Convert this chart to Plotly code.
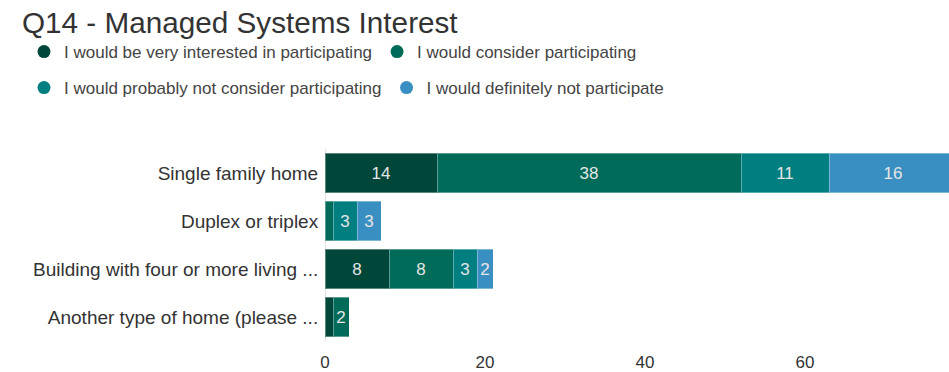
import plotly.graph_objects as go

categories = ["Single family home", "Duplex or triplex",
              "Building with four or more living ...", "Another type of home (please ..."]
series_names = ["I would be very interested in participating",
                "I would consider participating",
                "I would probably not consider participating",
                "I would definitely not participate"]
very_interested = [14, 0, 8, 1]
consider = [38, 1, 8, 2]
probably_not = [11, 3, 3, 0]
definitely_not = [16, 3, 2, 0]
colors = ["#00473a", "#006b58", "#007e80", "#3a8fc2"]
x_ticks = [0, 20, 40, 60]

values = [very_interested, consider, probably_not, definitely_not]
font_family = "Arial, Liberation Sans, sans-serif"

fig = go.Figure()
for name, vals, col in zip(series_names, values, colors):
    fig.add_trace(go.Bar(
        y=categories, x=vals, orientation="h", name=name,
        marker=dict(color=col, line=dict(color="rgba(255,255,255,0.35)", width=1)),
        text=[str(v) if v else "" for v in vals],
        textposition="inside", insidetextanchor="middle",
        textfont=dict(color="#e6e6e6", size=17, family=font_family),
        showlegend=False, hoverinfo="x+name",
    ))

# legend entries with circle markers, split into two rows
for i, (name, col) in enumerate(zip(series_names, colors)):
    fig.add_trace(go.Scatter(
        x=[None], y=[None], mode="markers", name=name,
        marker=dict(color=col, size=13, symbol="circle"),
        legend="legend" if i < 2 else "legend2",
    ))

W, H = 949, 372
ml, mr, mt, mb = 325, 0, 149, 31
pw, ph = W - ml - mr, H - mt - mb

def lx(px):
    return (px - ml) / pw

def ly(py):
    return (H - mb - py) / ph

legend_common = dict(orientation="h", xanchor="left", yanchor="middle",
                     traceorder="normal",
                     font=dict(size=17, color="#444444", family=font_family),
                     bgcolor="rgba(0,0,0,0)", itemclick=False)

fig.update_layout(
    width=W, height=H,
    margin=dict(l=ml, r=mr, t=mt, b=mb),
    barmode="stack", bargap=0.167,
    plot_bgcolor="white", paper_bgcolor="white",
    title=dict(text="Q14 - Managed Systems Interest", x=22 / W, xanchor="left",
               xref="container", y=1 - 23 / H, yanchor="middle", yref="container",
               font=dict(size=29.7, color="#333333", family=font_family)),
    legend=dict(x=lx(24), y=ly(52), **legend_common),
    legend2=dict(x=lx(24), y=ly(88), **legend_common),
    uniformtext=dict(minsize=15, mode="hide"),
    font=dict(family=font_family),
)
fig.update_xaxes(range=[0, 78], tickvals=x_ticks, showgrid=False,
                 zeroline=True, zerolinecolor="#e3e3e3", zerolinewidth=1,
                 showline=False, ticks="outside", ticklen=6, tickcolor="white",
                 tickfont=dict(size=17, color="#333333", family=font_family))
fig.update_yaxes(categoryorder="array", categoryarray=categories[::-1],
                 showgrid=False, ticks="outside", ticklen=2, tickcolor="white",
                 tickfont=dict(size=19, color="#333333", family=font_family))

fig.write_html("out.html")
